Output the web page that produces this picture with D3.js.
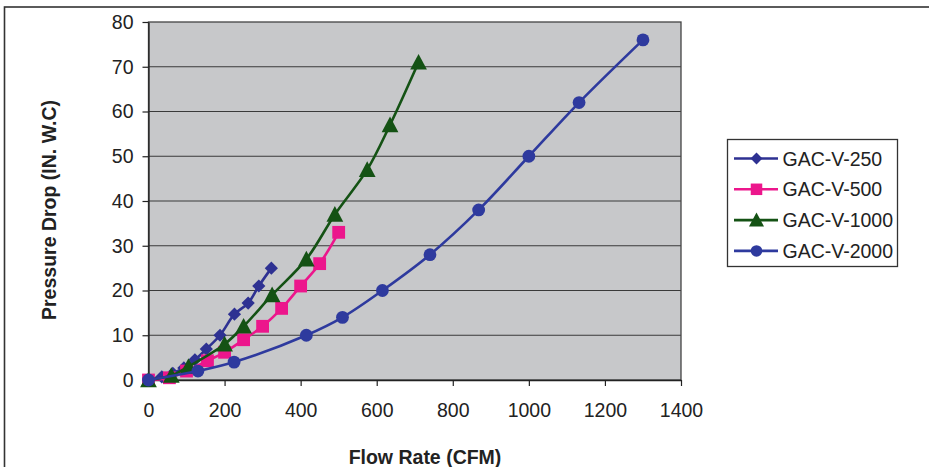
<!DOCTYPE html>
<html>
<head>
<meta charset="utf-8">
<script src="https://cdn.jsdelivr.net/npm/d3@7"></script>
<style>
  body { margin: 0; background: #fff; }
  text { font-family: "Liberation Sans", Arial, sans-serif; fill: #222; }
</style>
</head>
<body>
<div id="chart"></div>
<script>
// chart size
const width = 929;
const height = 467;

// data (flow in CFM, pressure drop in IN. W.C)
const seriesNames = ["GAC-V-250", "GAC-V-500", "GAC-V-1000", "GAC-V-2000"];

const flow250 = [0, 35, 64, 93, 122, 152, 188, 226, 262, 290, 323];
const drop250 = [0, 0.7, 1.5, 2.7, 4.5, 6.9, 10, 14.7, 17.2, 21, 25];

const flow500 = [0, 55, 100, 155, 200, 250, 300, 350, 400, 450, 500];
const drop500 = [0, 0.5, 2, 4.3, 6.2, 9, 12, 16, 21, 26, 33];

const flow1000 = [0, 60, 105, 200, 250, 325, 415, 490, 575, 635, 710];
const drop1000 = [0, 1, 3, 8, 12, 19, 27, 37, 47, 57, 71];

const flow2000 = [0, 130, 225, 415, 510, 615, 740, 868, 1000, 1132, 1300];
const drop2000 = [0, 2, 4, 10, 14, 20, 28, 38, 50, 62, 76];

const xTicks = [0, 200, 400, 600, 800, 1000, 1200, 1400];
const yTicks = [0, 10, 20, 30, 40, 50, 60, 70, 80];

const colors = ["#2e3192", "#ec168c", "#145214", "#2e3a9e"];
const shapes = ["diamond", "square", "triangle", "circle"];

const series = [
  { name: seriesNames[0], flow: flow250, drop: drop250 },
  { name: seriesNames[1], flow: flow500, drop: drop500 },
  { name: seriesNames[2], flow: flow1000, drop: drop1000 },
  { name: seriesNames[3], flow: flow2000, drop: drop2000 }
];

// plot area
const plot = { left: 148.5, right: 681, top: 22, bottom: 380 };

const svg = d3.select("#chart")
  .append("svg")
  .attr("width", width)
  .attr("height", height);

// outer chart border (runs off the picture on right and bottom)
svg.append("rect")
  .attr("x", 4.5)
  .attr("y", 7)
  .attr("width", width + 20)
  .attr("height", height + 20)
  .attr("fill", "none")
  .attr("stroke", "#333")
  .attr("stroke-width", 1.6);

const x = d3.scaleLinear().domain([0, 1400]).range([plot.left, plot.right]);
const y = d3.scaleLinear().domain([0, 80]).range([plot.bottom, plot.top]);

svg.append("rect")
  .attr("x", plot.left)
  .attr("y", plot.top)
  .attr("width", plot.right - plot.left)
  .attr("height", plot.bottom - plot.top)
  .attr("fill", "#c7c8ca");

// horizontal gridlines
svg.append("g")
  .selectAll("line")
  .data(yTicks.filter(d => d > 0 && d < 80))
  .enter()
  .append("line")
  .attr("x1", plot.left)
  .attr("x2", plot.right)
  .attr("y1", d => y(d))
  .attr("y2", d => y(d))
  .attr("stroke", "#3a3a3a")
  .attr("stroke-width", 1.2);

svg.append("rect")
  .attr("x", plot.left)
  .attr("y", plot.top)
  .attr("width", plot.right - plot.left)
  .attr("height", plot.bottom - plot.top)
  .attr("fill", "none")
  .attr("stroke", "#444")
  .attr("stroke-width", 1.3);

// axes
const xAxis = svg.append("g")
  .attr("transform", `translate(0,${plot.bottom})`)
  .call(d3.axisBottom(x).tickValues(xTicks).tickFormat(d3.format("d"))
    .tickSize(6).tickPadding(17).tickSizeOuter(0));

const yAxis = svg.append("g")
  .attr("transform", `translate(${plot.left},0)`)
  .call(d3.axisLeft(y).tickValues(yTicks).tickFormat(d3.format("d"))
    .tickSize(6).tickPadding(9).tickSizeOuter(0));

[xAxis, yAxis].forEach(a => {
  a.select(".domain").attr("stroke", "#222").attr("stroke-width", 1.3);
  a.selectAll(".tick line").attr("stroke", "#222").attr("stroke-width", 1.2);
  a.selectAll(".tick text")
    .attr("font-size", 19.5)
    .attr("font-family", "Liberation Sans, Arial, sans-serif")
    .attr("fill", "#222");
});

// axis titles
svg.append("text")
  .attr("x", 425)
  .attr("y", 464)
  .attr("text-anchor", "middle")
  .attr("font-size", 19.5)
  .attr("font-weight", "bold")
  .text("Flow Rate (CFM)");

svg.append("text")
  .attr("transform", "translate(55.5,210) rotate(-90)")
  .attr("text-anchor", "middle")
  .attr("font-size", 19.5)
  .attr("font-weight", "bold")
  .text("Pressure Drop (IN. W.C)");

// marker drawing
function markerPath(shape, s) {
  if (shape === "diamond") return `M0,${-s}L${s},0L0,${s}L${-s},0Z`;
  if (shape === "square") return `M${-s},${-s}H${s}V${s}H${-s}Z`;
  if (shape === "triangle") return `M0,${-s * 1.1}L${s * 1.1},${s * 0.95}H${-s * 1.1}Z`;
  return null;
}

function drawMarker(g, shape, color, cx, cy, s) {
  if (shape === "circle") {
    g.append("circle").attr("cx", cx).attr("cy", cy).attr("r", s).attr("fill", color);
  } else {
    g.append("path")
      .attr("d", markerPath(shape, s))
      .attr("transform", `translate(${cx},${cy})`)
      .attr("fill", color);
  }
}

const line = d3.line()
  .x(d => x(d[0]))
  .y(d => y(d[1]))
  .curve(d3.curveCatmullRom.alpha(0.5));

const markerSize = { diamond: 6.6, square: 6.4, triangle: 7.6, circle: 6.4 };

// series drawn in legend order, last one on top
series.forEach((s, i) => {
  const pts = s.flow.map((f, k) => [f, s.drop[k]]);
  const g = svg.append("g");
  g.append("path")
    .attr("d", line(pts))
    .attr("fill", "none")
    .attr("stroke", colors[i])
    .attr("stroke-width", 2.6);
  pts.forEach(p => drawMarker(g, shapes[i], colors[i], x(p[0]), y(p[1]), markerSize[shapes[i]]));
});

// legend
const legend = svg.append("g");
legend.append("rect")
  .attr("x", 727.5)
  .attr("y", 139.5)
  .attr("width", 170)
  .attr("height", 127)
  .attr("fill", "#fff")
  .attr("stroke", "#333")
  .attr("stroke-width", 1.3);

seriesNames.forEach((name, i) => {
  const ly = 158.5 + i * 30.8;
  legend.append("line")
    .attr("x1", 734).attr("x2", 778)
    .attr("y1", ly).attr("y2", ly)
    .attr("stroke", colors[i])
    .attr("stroke-width", 2.6);
  drawMarker(legend, shapes[i], colors[i], 756.5, ly, markerSize[shapes[i]] * 0.9);
  legend.append("text")
    .attr("x", 782.5)
    .attr("y", ly + 7)
    .attr("font-size", 19.5)
    .text(name);
});
</script>
</body>
</html>
